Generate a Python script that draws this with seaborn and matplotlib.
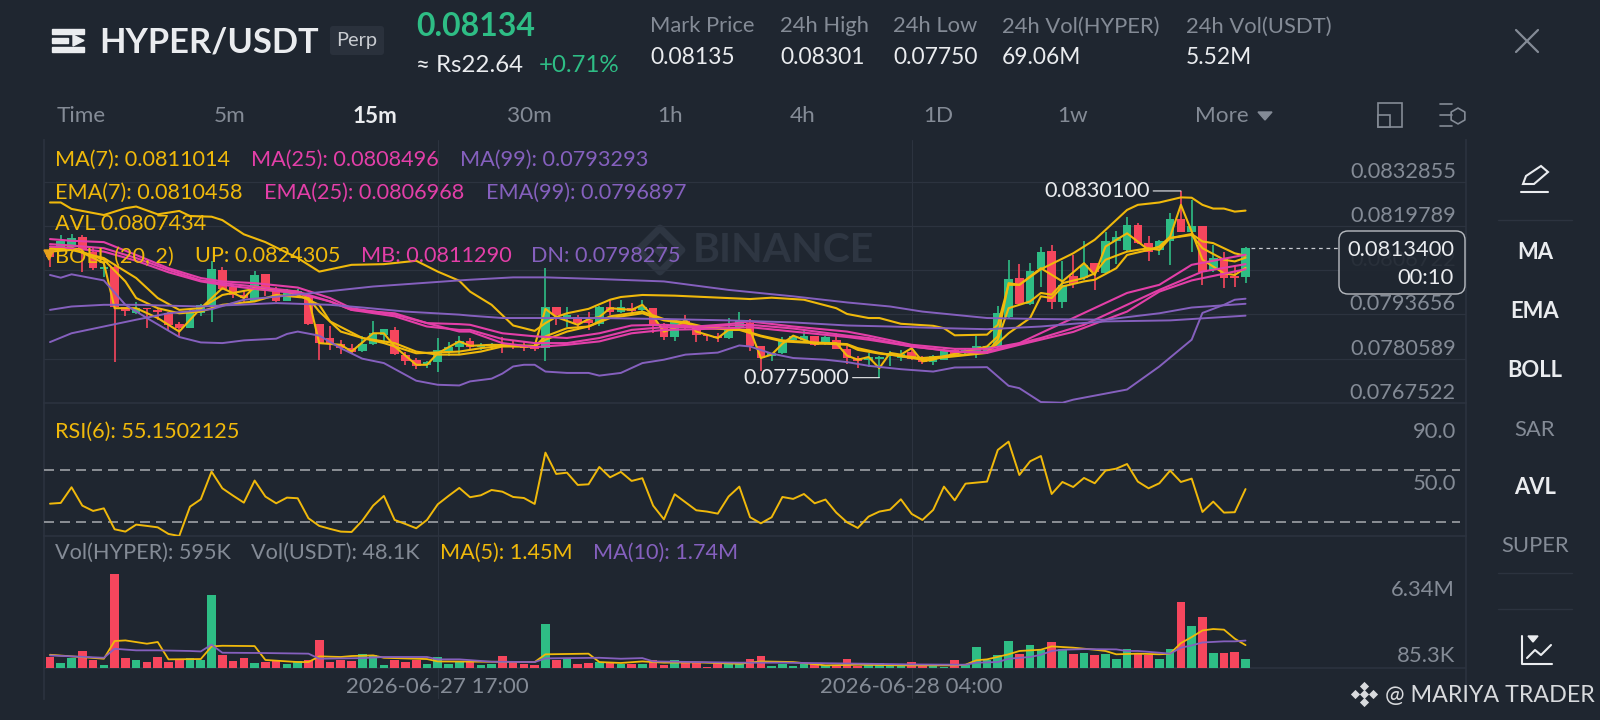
import numpy as np
import pandas as pd
import matplotlib
matplotlib.use("Agg")
import matplotlib.pyplot as plt
import seaborn as sns
from matplotlib.patches import FancyBboxPatch, Rectangle, Polygon

# colours of the app
BG = "#1F2630"
GRID = "#2C333F"
GREEN = "#2EBD85"
RED = "#F6465D"
YELLOW = "#F0B90B"
PINK = "#E33FA8"
PURPLE = "#8560BE"
GREY = "#848B96"
WHITE = "#EAECEF"

# candles, prices in units of 0.00001
opens = [8127,8132,8137,8166,8122,8071,8078,7958,7942,7957,
         7950,7942,7909,7898,7940,7965,8068,8019,7994,7975,
         8055,8012,7975,8001,7987,7908,7867,7849,7837,7829,
         7849,7877,7891,7818,7802,7786,7795,7825,7840,7857,
         7840,7842,7844,7845,7842,7840,7837,7960,7929,7928,
         7921,7908,7958,7945,7955,7950,7955,7901,7869,7916,
         7901,7877,7874,7867,7896,7911,7844,7813,7823,7862,
         7862,7872,7852,7862,7834,7808,7803,7805,7813,7808,
         7825,7808,7795,7803,7832,7825,7825,7825,7844,7929,
         8045,7968,8071,8124,7972,8049,8043,8088,8060,8152,
         8127,8201,8147,8127,8152,8218,8181,8198,8068,8103,
         8049,8046]
closes = [8107,8152,8162,8127,8073,8078,7960,7948,7957,7953,
          7945,7906,7896,7945,7965,8070,8011,7994,7985,8053,
          8012,7975,7999,8006,7908,7852,7849,7837,7827,7849,
          7881,7893,7819,7798,7783,7795,7832,7840,7857,7840,
          7847,7847,7840,7840,7839,7834,7960,7936,7936,7911,
          7911,7960,7945,7958,7947,7958,7901,7870,7916,7906,
          7877,7872,7867,7896,7916,7844,7808,7823,7862,7872,
          7874,7847,7870,7834,7808,7798,7810,7811,7823,7820,
          7805,7795,7815,7828,7818,7832,7842,7844,7942,8042,
          7968,8066,8120,7972,8022,8027,8083,8063,8153,8166,
          8201,8147,8122,8152,8218,8181,8198,8063,8103,8044,
          8044,8134]
highs = [8132,8171,8174,8171,8132,8088,8083,7960,7972,7957,
         7953,7945,7914,7950,7967,8093,8076,8024,8009,8065,
         8055,8019,8012,8012,7988,7908,7903,7862,7849,7872,
         7916,7893,7899,7825,7808,7800,7867,7855,7874,7867,
         7852,7852,7870,7860,7857,7847,8073,7960,7958,7936,
         7943,7962,7980,7978,7970,7978,7955,7911,7921,7936,
         7906,7880,7883,7926,7944,7923,7844,7823,7870,7874,
         7891,7874,7874,7882,7842,7815,7823,7813,7828,7832,
         7842,7813,7818,7837,7837,7837,7874,7844,7962,8096,
         8086,8088,8135,8141,8093,8112,8154,8088,8181,8183,
         8223,8206,8169,8157,8235,8301,8273,8198,8142,8122,
         8083,8135]
lows = [8078,8132,8132,8061,8068,8048,7795,7931,7938,7896,
        7921,7891,7872,7898,7931,7914,8009,7985,7970,7973,
        7992,7973,7975,7985,7906,7803,7832,7819,7822,7827,
        7847,7852,7816,7788,7776,7778,7768,7815,7821,7834,
        7832,7834,7824,7834,7830,7830,7800,7906,7899,7891,
        7891,7901,7936,7940,7940,7945,7882,7860,7859,7891,
        7854,7857,7854,7864,7893,7830,7769,7798,7821,7857,
        7857,7842,7847,7834,7791,7778,7781,7750,7783,7798,
        7803,7791,7788,7801,7813,7821,7808,7823,7842,7926,
        7965,7965,8019,7952,7955,8014,8039,8009,8058,8086,
        8122,8145,8093,8112,8083,8181,8122,8022,8063,8016,
        8019,8029]

# overlays, each with its own candle numbers
avl_idx = [0,2,5,6,8,10,12,14,16,18,19,21,23,24,25,27,28,30,31,32,34,35,36,38,39,41,45,46,47,49,50,51,52,54,55,56,57,58,59,60,62,63,65,66,67,68,69,71,73,74,75,76,77,78,79,80,81,82,83,87,88,89,90,92,94,96,97,98,100,102,103,104,105,106,107,109,110,111]
avl = [8132,8134,8088,7955,7955,7926,7886,7955,8014,7985,8019,8009,8004,7985,7852,7847,7827,7881,7881,7842,7788,7788,7822,7857,7844,7847,7844,7953,7929,7906,7923,7929,7955,7950,7965,7931,7886,7896,7921,7886,7867,7891,7891,7808,7818,7850,7874,7850,7852,7815,7803,7811,7778,7823,7818,7837,7798,7803,7813,7842,7872,8029,8024,8073,8034,8088,8053,8137,8176,8127,8137,8166,8260,8181,8098,8058,8053,8074]

ma7_idx = [0,2,5,8,10,12,14,16,19,22,23,25,26,29,31,34,38,40,42,45,46,48,50,52,55,57,59,61,64,66,68,71,74,75,77,81,84,87,89,91,92,93,94,96,97,99,100,102,103,104,106,107,108,110,111]
ma7 = [8122,8127,8103,8044,7985,7950,7955,7994,8012,8004,7994,7965,7916,7867,7852,7822,7827,7837,7844,7842,7862,7886,7901,7931,7945,7923,7913,7898,7893,7874,7860,7854,7849,7837,7823,7803,7813,7823,7881,7926,7990,7985,8019,8034,8039,8073,8112,8127,8135,8162,8174,8152,8147,8117,8110]

ema7_idx = [0,2,5,7,8,10,12,14,16,19,21,24,25,27,29,32,34,36,38,40,42,45,46,48,50,52,55,57,59,61,64,66,68,71,74,75,77,81,84,87,88,89,91,92,93,94,96,97,98,100,102,103,104,106,107,109,110,111]
ema7 = [8127,8132,8098,8034,7985,7955,7940,7945,7965,7975,7994,7985,7945,7886,7867,7852,7827,7818,7818,7827,7842,7842,7872,7896,7901,7926,7940,7919,7911,7896,7891,7872,7857,7852,7847,7832,7821,7808,7815,7825,7862,7955,7975,8000,7995,8029,8044,8058,8098,8122,8132,8127,8162,8171,8132,8098,8093,8104]

up_idx = [0,1,2,5,7,8,10,12,13,15,16,18,20,23,25,28,31,34,36,38,39,41,43,45,46,47,48,50,52,53,55,58,65,67,70,73,74,76,77,79,82,83,84,87,88,89,90,92,95,97,98,100,101,103,105,106,107,108,109,110,111]
up = [8267,8267,8248,8230,8250,8255,8232,8242,8227,8225,8215,8173,8150,8103,8063,8083,8085,8095,8063,8036,8004,7965,7904,7888,7911,7929,7940,7953,7980,7988,7994,7992,7982,7986,7980,7955,7938,7926,7926,7909,7903,7896,7875,7877,7906,8024,8024,8070,8117,8157,8186,8245,8260,8267,8282,8281,8260,8249,8249,8240,8243]

pink_idx = [0,2,5,8,11,14,16,19,23,26,28,32,35,38,39,42,45,48,51,54,57,60,63,65,69,74,76,80,84,87,90,95,100,103,106,111]
mb = [8159,8154,8150,8112,8073,8044,8034,8029,8016,7985,7955,7936,7911,7908,7906,7881,7872,7867,7881,7904,7906,7901,7908,7916,7901,7886,7874,7847,7835,7835,7852,7926,8000,8024,8083,8113]
ema25 = [8137,8132,8122,8095,8061,8034,8024,8012,7999,7975,7950,7940,7911,7886,7886,7852,7840,7847,7857,7881,7891,7893,7896,7899,7886,7870,7862,7842,7827,7823,7847,7885,7945,8004,8037,8070]
ma25_idx = [0,2,5,8,11,14,16,19,23,26,28,32,35,38,39,42,45,48,51,54,57,60,63,65,69,74,76,80,84,87,92,96,100,103,107,111]
ma25 = [8144,8140,8132,8103,8068,8037,8029,8019,8004,7975,7950,7931,7901,7891,7891,7864,7852,7852,7867,7891,7899,7899,7904,7906,7895,7874,7867,7842,7827,7827,7867,7906,7965,8009,8063,8085]

dn_idx = [0,1,2,5,7,9,12,14,16,18,21,22,23,25,27,29,31,34,36,38,39,41,42,43,44,45,46,48,50,51,53,55,57,59,62,64,65,67,69,72,74,76,79,82,84,87,89,90,92,94,95,100,103,106,107,109,110,111]
dn = [8053,8045,8055,8037,7965,7926,7870,7854,7852,7860,7865,7879,7886,7874,7837,7806,7793,7741,7729,7727,7739,7747,7762,7783,7788,7788,7768,7764,7764,7756,7764,7793,7803,7818,7824,7845,7842,7821,7808,7803,7796,7785,7775,7768,7780,7781,7726,7719,7678,7676,7685,7715,7783,7862,7941,7965,7980,7983]
ma99_idx = [0,2,5,8,14,16,21,26,29,33,38,39,42,46,51,57,63,69,74,78,83,87,92,95,98,104,111]
ma99 = [7950,7960,7965,7965,7960,7963,7970,7965,7957,7945,7936,7933,7926,7926,7926,7923,7919,7913,7904,7901,7896,7893,7901,7909,7916,7919,7933]
ema99_idx = [0,2,5,8,11,15,18,21,25,30,38,39,43,46,51,57,63,69,74,78,81,87,92,98,103,106,111]
ema99 = [7855,7881,7901,7921,7940,7952,7980,7989,8002,8019,8037,8039,8046,8046,8041,8034,8009,7990,7972,7960,7945,7926,7923,7921,7940,7957,7968]

price_ticks = [0.0832855, 0.0819789, 0.0806722, 0.0793656, 0.0780589, 0.0767522]

# RSI(6), one value per candle
rsi = [43.9,44.5,56.6,42.4,38.3,40.3,24.1,22.3,27.7,26.7,
       25.6,20.5,18.9,41.6,47.3,68.7,55.8,50.1,44.7,61.8,
       49.4,44.2,48.6,48.1,32.6,26.7,24.4,22.3,22.0,30.8,
       42.4,49.9,31.3,28.2,24.9,31.3,43.4,49.9,56.1,48.9,
       50.4,54.5,53.2,49.1,48.3,43.7,83.4,66.9,67.9,58.4,
       58.9,72.3,64.3,68.5,61.5,63.6,42.4,31.8,51.2,45.0,
       38.8,37.8,36.2,49.4,57.1,33.4,28.7,33.4,49.1,47.6,
       51.4,44.2,47.1,37.0,29.5,25.1,33.9,37.8,39.3,47.3,
       36.0,31.3,39.1,57.1,46.5,59.4,60.2,61.0,85.5,91.9,
       66.1,76.7,80.8,51.4,60.7,56.8,63.8,59.7,69.5,71.0,
       74.6,61.0,55.8,59.7,69.5,60.7,63.3,37.5,45.5,37.0,
       37.3,55.2]

# volume in millions
volume = [.70,.32,.65,1.08,.49,.21,5.93,.61,.49,.40,
          .72,.40,.49,.65,.49,4.64,.80,.42,.63,.34,
          .36,.42,.27,.44,.53,1.79,.40,.53,.44,.91,
          .80,.21,.53,.38,.49,.23,.70,.27,.42,.44,
          .17,.27,.74,.38,.25,.19,2.79,.49,.55,.25,
          .30,.38,.40,.27,.27,.27,.49,.17,.53,.38,
          .38,.06,.38,.38,.27,.59,.74,.13,.27,.11,
          .27,.27,.17,.11,.59,.11,.27,.34,.27,.11,
          .40,.11,.21,.06,.49,.17,1.33,.49,.84,1.73,
          .87,1.43,1.12,1.67,1.22,.87,.93,.82,.91,.57,
          1.22,.97,.80,.57,1.18,4.20,2.68,3.23,.97,.95,
          1.01,.595]
vol_ma5_idx = [0,5,6,7,9,10,11,14,15,16,19,20,23,24,25,27,28,30,31,35,36,45,46,50,51,53,55,57,60,64,66,69,72,75,79,84,85,86,87,89,90,92,93,95,97,98,99,101,103,104,105,106,107,108,109,110,111]
vol_ma5 = [.84,.59,1.71,1.75,1.54,1.65,.55,.57,1.37,1.41,1.39,.51,.38,.38,.74,.70,.76,.80,.65,.57,.42,.38,.87,.91,.38,.32,.42,.34,.36,.27,.42,.38,.17,.21,.17,.17,.21,.49,.55,.87,1.08,1.16,1.37,1.29,1.16,1.08,.87,.91,.87,.91,1.58,1.96,2.38,2.47,2.43,1.86,1.45]
vol_ma10_idx = [0,5,6,8,10,13,14,15,16,20,24,25,29,31,35,36,38,41,45,46,51,53,55,56,60,64,68,76,80,85,86,88,89,91,92,93,94,96,99,100,101,103,104,105,106,107,109,110,111]
vol_ma10 = [.80,.65,1.22,1.12,1.12,1.08,1.05,1.48,.97,.95,.91,.59,.63,.70,.70,.55,.55,.40,.38,.61,.65,.59,.63,.42,.38,.34,.34,.27,.23,.21,.34,.38,.59,.70,.84,1.08,1.16,1.20,1.18,1.08,1.08,.97,.91,1.29,1.43,1.62,1.69,1.69,1.74]

time_ticks = [36, 80]
time_labels = ["2026-06-27 17:00", "2026-06-28 04:00"]

sns.set_theme(style="dark", rc={"axes.facecolor": "none", "figure.facecolor": BG})
plt.rcParams["font.family"] = ["Lato", "DejaVu Sans"]

fig = plt.figure(figsize=(16, 7.2), dpi=100)


def pane(top, bottom, z=2):
    a = fig.add_axes([44 / 1600, 1 - bottom / 720, (1466 - 44) / 1600, (bottom - top) / 720], zorder=z)
    a.set_facecolor("none")
    a.set_xlim(-0.557, 131.47)
    a.set_xticks(time_ticks)
    a.set_xticklabels([])
    a.tick_params(length=0)
    a.grid(True, axis="x", color=GRID, lw=0.8)
    for name, s in a.spines.items():
        s.set_color(GRID)
        s.set_linewidth(1.2)
    a.spines["top"].set_visible(False)
    return a


def T(ax, x, y, s, px=20, c=WHITE, ha="left", w="normal"):
    ax.text(x, y + 1.5, s, fontsize=px * 0.72, color=c, ha=ha, va="center", fontweight=w)


# full-figure layers in pixel coordinates for the app chrome
back = fig.add_axes([0, 0, 1, 1], zorder=0)
front = fig.add_axes([0, 0, 1, 1], zorder=10)
for a in (back, front):
    a.set_xlim(0, 1600)
    a.set_ylim(720, 0)
    a.axis("off")

# ---- price pane
ax = pane(140, 403)
ax.set_ylim(0.0767522, 0.0845137)
ax.set_yticks(price_ticks)
ax.set_yticklabels([])
ax.grid(True, axis="y", color=GRID, lw=0.9)

x = np.arange(len(closes))
o, c, h, l = [np.array(v) * 1e-5 for v in (opens, closes, highs, lows)]
colors = np.where(c >= o, GREEN, RED)
ax.vlines(x, l, h, colors=colors, lw=1.2, zorder=3)
ax.bar(x, np.maximum(np.abs(c - o), 0.000012), bottom=np.minimum(o, c), width=0.8, color=colors,
       edgecolor="none", linewidth=0, zorder=3)

overlays = [
    (ma7_idx, ma7, YELLOW, 1.5), (ema7_idx, ema7, YELLOW, 1.5), (up_idx, up, YELLOW, 1.5),
    (avl_idx, avl, YELLOW, 1.5),
    (pink_idx, mb, PINK, 1.5), (ma25_idx, ma25, PINK, 1.5), (pink_idx, ema25, PINK, 1.5),
    (dn_idx, dn, PURPLE, 1.4), (ma99_idx, ma99, PURPLE, 1.4), (ema99_idx, ema99, PURPLE, 1.4),
]
for idx, vals, col, lw in overlays:
    sns.lineplot(x=idx, y=np.array(vals) * 1e-5, ax=ax, color=col, lw=lw, estimator=None,
                 sort=False, legend=False, zorder=4)

for t in price_ticks:
    ax.annotate(f"{t:.7f}", xy=(1, t), xycoords=("axes fraction", "data"), xytext=(-10, 0),
                textcoords="offset pixels", ha="right", va="bottom", color=GREY, fontsize=15.7)

ax.annotate("0.0830100", xy=(105, max(highs) * 1e-5), xytext=(-31, 0), textcoords="offset pixels",
            color=WHITE, fontsize=15.7, ha="right", va="center", zorder=6,
            arrowprops=dict(arrowstyle="-", color=WHITE, lw=0.8, shrinkA=0, shrinkB=0))
ax.annotate("0.0775000", xy=(77, min(lows) * 1e-5), xytext=(-30, 0), textcoords="offset pixels",
            color=WHITE, fontsize=15.7, ha="right", va="center", zorder=6,
            arrowprops=dict(arrowstyle="-", color=WHITE, lw=0.8, shrinkA=0, shrinkB=0))
ax.plot([111.5, 119.7], [c[-1], c[-1]], color="#C8CBD0", lw=0.9, ls=(0, (3, 3)), zorder=5)

# ---- RSI pane
ax2 = pane(403, 536)
ax2.set_ylim(18.9, 121.8)
ax2.set_yticks([])
sns.lineplot(x=x, y=rsi, ax=ax2, color=YELLOW, lw=1.4, estimator=None, legend=False, zorder=4)
for lev in (70, 30):
    ax2.axhline(lev, color="#9EA1A6", lw=1.2, dashes=(6, 3.6), xmax=0.996, zorder=3)
for lev, lab in ((90, "90.0"), (50, "50.0")):
    ax2.annotate(lab, xy=(1, lev), xycoords=("axes fraction", "data"), xytext=(-10, 2),
                 textcoords="offset pixels", ha="right", va="bottom", color=GREY, fontsize=15.8)

# ---- volume pane (runs on below the base line, the time labels sit there)
ax3 = pane(536, 699)
ax3.set_ylim(-1.96, 8.36)
ax3.set_yticks([])
frame = pd.DataFrame({"i": x, "vol": volume, "dir": np.where(c >= o, "up", "down")})
sns.barplot(data=frame, x="i", y="vol", hue="dir", palette={"up": GREEN, "down": RED},
            native_scale=True, dodge=False, width=0.8, legend=False, ax=ax3, zorder=3,
            saturation=1, linewidth=0, edgecolor="none")
ax3.set_xlim(-0.557, 131.47)
ax3.set_xlabel("")
ax3.set_ylabel("")
ax3.spines["bottom"].set_visible(False)
ax3.axhline(0, color=GRID, lw=1.2, zorder=2)
sns.lineplot(x=vol_ma5_idx, y=vol_ma5, ax=ax3, color=YELLOW, lw=1.3, estimator=None, legend=False, zorder=4)
sns.lineplot(x=vol_ma10_idx, y=vol_ma10, ax=ax3, color=PURPLE, lw=1.3, estimator=None, legend=False, zorder=5)
for t, lab in zip(time_ticks, time_labels):
    ax3.text(t, -1.2, lab, ha="center", va="center", color=GREY, fontsize=16)

# ---- faded logo behind the candles
WM = "#2E3642"
back.scatter([660], [250], marker="D", s=500, facecolors="none", edgecolors=WM, lw=5)
back.scatter([660], [250], marker="D", s=60, color=WM, lw=0)
T(back, 693, 249, "BINANCE", 41, WM, w="bold")

# ---- legend rows
LEG = 21.7
rows = [
    (158, [(55, "MA(7): 0.0811014", YELLOW), (251, "MA(25): 0.0808496", PINK), (460, "MA(99): 0.0793293", PURPLE)]),
    (191, [(55, "EMA(7): 0.0810458", YELLOW), (264, "EMA(25): 0.0806968", PINK), (486, "EMA(99): 0.0796897", PURPLE)]),
    (222, [(55, "AVL 0.0807434", YELLOW)]),
    (255, [(55, "BOLL (20, 2)", YELLOW), (195, "UP: 0.0824305", YELLOW), (361, "MB: 0.0811290", PINK), (531, "DN: 0.0798275", PURPLE)]),
    (430, [(55, "RSI(6): 55.1502125", YELLOW)]),
    (551, [(55, "Vol(HYPER): 595K", GREY), (251, "Vol(USDT): 48.1K", GREY), (440, "MA(5): 1.45M", YELLOW), (593, "MA(10): 1.74M", PURPLE)]),
]
for yy, items in rows:
    for xx, s, col in items:
        T(front, xx, yy, s, LEG, col)
front.add_patch(Polygon([[44, 250], [54, 250], [49, 260]], color="#E8A01A"))

T(front, 1455, 588, "6.34M", 22, GREY, "right")
T(front, 1455, 655, "85.3K", 22, GREY, "right")

# ---- current price box
front.add_patch(FancyBboxPatch((1339, 231), 126, 63, boxstyle="round,pad=0,rounding_size=9",
                               fc=BG, ec="#C9CCD1", lw=1, alpha=0.9))
T(front, 1454, 248, "0.0813400", 22, WHITE, "right")
T(front, 1454, 276, "00:10", 22, WHITE, "right")

# ---- header
for yy, hh, xe in ((29, 5, 84), (38, 5, 68), (47, 5, 84)):
    front.add_patch(Rectangle((52, yy), xe - 52, hh, color=WHITE))
front.add_patch(Polygon([[73, 35], [84, 40.5], [73, 46]], color=WHITE))
T(front, 99, 41, "HYPER/USDT", 34.5, WHITE, w="bold")
front.add_patch(FancyBboxPatch((330, 26), 54, 29, boxstyle="round,pad=0,rounding_size=3", fc="#2A313C", ec="none"))
T(front, 357, 39, "Perp", 20, "#C9CCD1", "center")
T(front, 416, 25, "0.08134", 32, GREEN, w="bold")
T(front, 416, 64, "≈ Rs22.64", 24, WHITE)
T(front, 539, 64, "+0.71%", 24, GREEN)
stats = [(650, "Mark Price", "0.08135"), (780, "24h High", "0.08301"), (893, "24h Low", "0.07750"),
         (1002, "24h Vol(HYPER)", "69.06M"), (1186, "24h Vol(USDT)", "5.52M")]
for xx, name, val in stats:
    T(front, xx, 25, name, 22, GREY)
    T(front, xx, 56, val, 22.7, WHITE)
front.plot([1516, 1538], [30, 52], color=GREY, lw=1.6)
front.plot([1516, 1538], [52, 30], color=GREY, lw=1.6)

# ---- interval row
T(front, 57, 115, "Time", 22.5, GREY)
for xx, s in ((230, "5m"), (529, "30m"), (670, "1h"), (803, "4h"), (938, "1D"), (1073, "1w"), (1222, "More")):
    T(front, xx, 115, s, 22.5, GREY, "center")
T(front, 375, 115, "15m", 22.5, WHITE, "center", "bold")
front.add_patch(Polygon([[1258, 112], [1272, 112], [1265, 120]], color=GREY))
front.add_patch(Rectangle((1378, 103), 24, 24, fc="none", ec=GREY, lw=1.2))
front.add_patch(Rectangle((1378, 115), 12, 12, fc=BG, ec=GREY, lw=1.2))
for yy, xs in ((104, 1440), (115, 1440), (126, 1440)):
    front.plot([xs, xs + 12], [yy, yy], color=GREY, lw=1.2)
front.scatter([1458], [116], marker="h", s=130, facecolors="none", edgecolors=GREY, lw=1.2)

# ---- right side menu
for yy in (220, 573, 609):
    front.plot([1498, 1572], [yy, yy], color=GRID, lw=1)
side = [(251, "MA", WHITE, "bold"), (310, "EMA", WHITE, "bold"), (369, "BOLL", WHITE, "bold"),
        (428, "SAR", GREY, "normal"), (486, "AVL", WHITE, "bold"), (545, "SUPER", GREY, "normal")]
for yy, s, col, w in side:
    T(front, 1535, yy, s, 22, col, "center", w)
# pencil icon
front.add_patch(Polygon([[1523, 184], [1526, 176], [1541, 166], [1548, 172], [1534, 184]], fc="none", ec=WHITE, lw=1.5))
front.plot([1521, 1548], [192, 192], color=WHITE, lw=1.5)
# indicator icon
front.plot([1522, 1522, 1552], [636, 664, 664], color=WHITE, lw=1.5)
front.plot([1527, 1535, 1541, 1551], [658, 650, 655, 645], color=WHITE, lw=1.5)
front.add_patch(Polygon([[1528, 636], [1538, 636], [1533, 642]], color=WHITE))

# ---- watermark of the poster
for dx, dy in ((1364, 686), (1364, 702), (1355, 694), (1373, 694), (1364, 694)):
    front.scatter([dx], [dy], marker="D", s=22, color="#D8DADD", lw=0)
T(front, 1385, 694, "@ MARIYA TRADER", 23.3, "#D8DADD")

fig.savefig("out.png", dpi=100, facecolor=BG)
